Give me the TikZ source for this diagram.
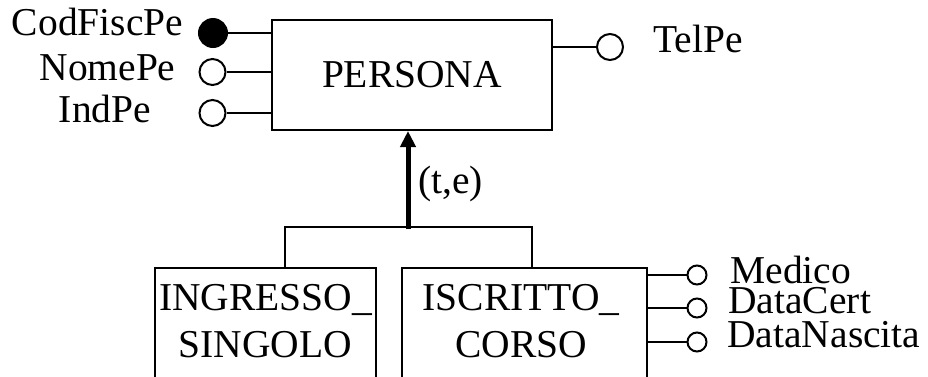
\documentclass[tikz,border=0pt]{standalone}
\usepackage{fontspec}
\setmainfont{Liberation Serif}
\usetikzlibrary{arrows.meta}

\tikzset{
    entity/.style={draw, black, line width=1pt, inner sep=0pt},
    attr/.style={circle, draw, black, line width=1pt, fill=white, inner sep=0pt, minimum size=13pt},
    attrsmall/.style={attr, minimum size=9.5pt},
    key/.style={attr, fill=black, minimum size=14pt},
    txt/.style={inner sep=0pt},
    link/.style={black, line width=1pt},
}

\begin{document}
\begin{tikzpicture}[x=0.5pt, y=-0.5pt, font=\fontsize{19.75pt}{23.5pt}\selectfont]
        \useasboundingbox (0,0) rectangle (928,376);
        \clip (0,0) rectangle (928,376);
        \node[entity, minimum width=140pt, minimum height=55pt] (persona) at (412,75) {PERSONA};
        \node[entity, minimum width=110.5pt, minimum height=70pt, anchor=north] (ingresso) at (265.5,267) {};
        \node[entity, minimum width=122.5pt, minimum height=70pt, anchor=north] (iscritto) at (524.5,267) {};
        \node[txt, anchor=base] (ingressoA) at (265.5,310) {INGRESSO\_};
        \node[txt, anchor=base] (ingressoB) at (265.5,357) {SINGOLO};
        \node[txt, anchor=base] (iscrittoA) at (521,310) {ISCRITTO\_};
        \node[txt, anchor=base] (iscrittoB) at (521.5,357) {CORSO};

        \node[key] (codfisc) at (213,33) {};
        \node[attr] (nome) at (212.5,72) {};
        \node[attr] (ind) at (212.5,113) {};
        \node[attr] (tel) at (610,47) {};
        \node[txt, anchor=base] (codfisclbl) at (97.5,35) {CodFiscPe};
        \node[txt, anchor=base] (nomelbl) at (107.5,80) {NomePe};
        \node[txt, anchor=base] (indlbl) at (105,122) {IndPe};
        \node[txt, anchor=base west] (tellbl) at (653,52) {TelPe};
        \draw[link] (codfisc) -- (codfisc -| persona.west);
        \draw[link] (nome) -- (nome -| persona.west);
        \draw[link] (ind) -- (ind -| persona.west);
        \draw[link] (tel) -- (tel -| persona.east);

        \node[attrsmall] (medico) at (697,275) {};
        \node[attrsmall] (datacert) at (697,308) {};
        \node[attrsmall] (datanasc) at (697,342) {};
        \node[txt, anchor=base west] (medicolbl) at (730,283) {Medico};
        \node[txt, anchor=base west] (datacertlbl) at (728,313) {DataCert};
        \node[txt, anchor=base west] (datanasclbl) at (727,347) {DataNascita};
        \draw[link] (medico) -- (medico -| iscritto.east);
        \draw[link] (datacert) -- (datacert -| iscritto.east);
        \draw[link] (datanasc) -- (datanasc -| iscritto.east);

        \coordinate (jl) at (285,227);
        \coordinate (jr) at (532,227);
        \coordinate (junc) at (408,229);
        \draw[link] (jl |- ingresso.north) -- (jl) -- (jr) -- (jr |- iscritto.north);
        \draw[-{Triangle[length=8pt, width=7.5pt]}, black, line width=2.5pt]
            (junc) -- (junc |- persona.south);
        \node[txt, anchor=base west] (cover) at (418,193) {(t,e)};
    \end{tikzpicture}
\end{document}
